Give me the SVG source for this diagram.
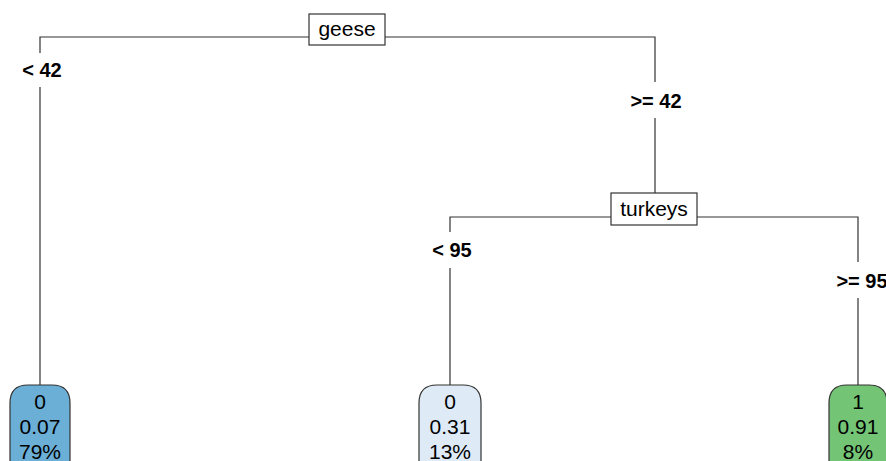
<svg xmlns="http://www.w3.org/2000/svg" width="886" height="461" viewBox="0 0 886 461">
<style>
.ln{stroke:#333;stroke-width:1.2;fill:none}
.box{fill:#fff;stroke:#333;stroke-width:1.2}
.leaf{stroke:#333;stroke-width:1.2}
text{font-family:"Liberation Sans",Arial,sans-serif;font-size:21px;fill:#000;text-anchor:middle}
.lab{font-weight:bold;font-size:20px}
</style>
<rect width="886" height="461" fill="#fff"/>
<g id="connectors">
<path class="ln" d="M309,37 H40 V53 M40,87 V385"/>
<path class="ln" d="M385,37 H655 V82 M655,118 V194"/>
<path class="ln" d="M611,217 H450 V232 M450,268 V385"/>
<path class="ln" d="M697,217 H858 V262 M858,298 V385"/>
<text class="lab" x="42" y="77">&lt; 42</text>
<text class="lab" x="656" y="108">&gt;= 42</text>
<text class="lab" x="452" y="257">&lt; 95</text>
<text class="lab" x="862" y="288">&gt;= 95</text>
</g>
<g id="geese">
<rect class="box" x="309" y="14" width="76" height="31"/>
<text x="347" y="36">geese</text>
</g>
<g id="turkeys">
<rect class="box" x="611" y="193" width="86" height="32"/>
<text x="654" y="216">turkeys</text>
</g>
<g id="leaf1">
<path class="leaf" fill="#6baed6" d="M10,470 V403 Q10,385 28,385 H52 Q70,385 70,403 V470 Z"/>
<text x="40" y="409">0</text>
<text x="40" y="434">0.07</text>
<text x="40" y="459">79%</text>
</g>
<g id="leaf2">
<path class="leaf" fill="#deebf7" d="M419,470 V403 Q419,385 437,385 H463 Q481,385 481,403 V470 Z"/>
<text x="450" y="409">0</text>
<text x="450" y="434">0.31</text>
<text x="450" y="459">13%</text>
</g>
<g id="leaf3">
<path class="leaf" fill="#74c476" d="M829,470 V403 Q829,385 847,385 H869 Q887,385 887,403 V470 Z"/>
<text x="858" y="409">1</text>
<text x="858" y="434">0.91</text>
<text x="858" y="459">8%</text>
</g>
</svg>
